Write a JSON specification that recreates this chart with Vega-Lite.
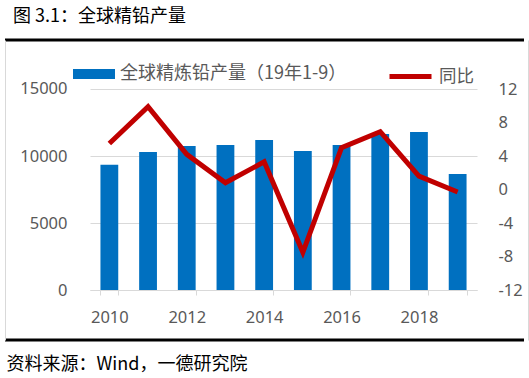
{
  "$schema": "https://vega.github.io/schema/vega-lite/v6.json",
  "width": 523,
  "height": 300,
  "autosize": {"type": "none"},
  "padding": {"left": 5, "top": 40, "right": 1, "bottom": 38},
  "background": "white",
  "title": {
    "text": "图 3.1：全球精铅产量",
    "anchor": "start",
    "frame": "group",
    "dx": 8,
    "offset": 0,
    "baseline": "alphabetic",
    "font": "Noto Sans CJK SC",
    "fontSize": 18,
    "fontWeight": "normal",
    "color": "#000000"
  },
  "data": {
    "values": [
      {"year": 2010, "prod": 9350, "yoy": 5.5},
      {"year": 2011, "prod": 10300, "yoy": 9.9},
      {"year": 2012, "prod": 10750, "yoy": 4.2},
      {"year": 2013, "prod": 10820, "yoy": 0.8},
      {"year": 2014, "prod": 11190, "yoy": 3.3},
      {"year": 2015, "prod": 10370, "yoy": -7.5},
      {"year": 2016, "prod": 10820, "yoy": 5.0},
      {"year": 2017, "prod": 11640, "yoy": 6.9},
      {"year": 2018, "prod": 11790, "yoy": 1.6},
      {"year": 2019, "prod": 8650, "yoy": -0.3}
    ]
  },
  "layer": [
    {
      "mark": {"type": "bar"},
      "encoding": {
        "x": {
          "field": "year",
          "type": "ordinal",
          "scale": {"range": [85, 472], "paddingInner": 0.54, "paddingOuter": 0.27},
          "axis": {
            "orient": "bottom",
            "offset": -50,
            "values": [2010, 2012, 2014, 2016, 2018, 2019],
            "labelExpr": "datum.value == 2019 ? '' : datum.label",
            "tickBand": "extent",
            "labelAngle": 0,
            "domainColor": "#d9d9d9",
            "tickColor": "#d9d9d9",
            "tickSize": 5,
            "labelColor": "#595959",
            "labelFont": "Noto Sans",
            "labelFontSize": 16.5,
            "labelBaseline": "alphabetic",
            "labelPadding": 27,
            "grid": false,
            "title": "资料来源：Wind，一德研究院",
            "titleX": 1,
            "titleY": 79,
            "titleAlign": "left",
            "titleAnchor": "start",
            "titleBaseline": "alphabetic",
            "titleFont": "Noto Sans CJK SC",
            "titleFontSize": 18,
            "titleFontWeight": "normal",
            "titleColor": "#000000"
          }
        },
        "y": {
          "field": "prod",
          "type": "quantitative",
          "scale": {"domain": [-3731.3, 18656.7], "nice": false, "zero": false},
          "axis": {
            "orient": "left",
            "values": [0, 5000, 10000, 15000],
            "labelExpr": "'' + datum.value",
            "grid": true,
            "gridColor": "#d9d9d9",
            "gridWidth": 1,
            "domain": true,
            "domainColor": "#d9d9d9",
            "ticks": false,
            "tickSize": 0,
            "labelPadding": -62,
            "labelColor": "#595959",
            "labelFont": "Noto Sans",
            "labelFontSize": 16.5,
            "title": null
          }
        },
        "y2": {"datum": 0},
        "fill": {
          "datum": "全球精炼铅产量（19年1-9）",
          "type": "nominal",
          "scale": {"range": ["#0070C0"]},
          "legend": {
            "orient": "none",
            "legendX": 68,
            "legendY": 13,
            "title": null,
            "symbolType": "M-1,-0.24H1V0.24H-1Z",
            "symbolSize": 1764,
            "symbolStrokeWidth": 0,
            "labelFont": "Noto Sans CJK SC",
            "labelFontSize": 18,
            "labelColor": "#595959",
            "labelOffset": 5,
            "labelLimit": 400
          }
        }
      }
    },
    {
      "mark": {"type": "line", "strokeWidth": 5},
      "encoding": {
        "x": {"field": "year", "type": "ordinal"},
        "y": {
          "field": "yoy",
          "type": "quantitative",
          "scale": {"domain": [-17.97, 17.851], "nice": false, "zero": false},
          "axis": {
            "orient": "right",
            "values": [-12, -8, -4, 0, 4, 8, 12],
            "labelExpr": "'' + datum.value",
            "grid": false,
            "domain": true,
            "domainColor": "#d9d9d9",
            "ticks": false,
            "tickSize": 0,
            "labelPadding": -30,
            "labelColor": "#595959",
            "labelFont": "Noto Sans",
            "labelFontSize": 16.5,
            "title": null
          }
        },
        "stroke": {
          "datum": "同比",
          "type": "nominal",
          "scale": {"range": ["#C00000"]},
          "legend": {
            "orient": "none",
            "legendX": 382,
            "legendY": 13,
            "title": null,
            "symbolType": "stroke",
            "symbolSize": 1764,
            "symbolStrokeWidth": 5,
            "labelFont": "Noto Sans CJK SC",
            "labelFontSize": 17.5,
            "labelColor": "#595959",
            "labelOffset": 5
          }
        }
      }
    }
  ],
  "resolve": {"scale": {"y": "independent", "fill": "independent", "stroke": "independent"}},
  "config": {
    "view": {"stroke": "#000000", "strokeWidth": 3, "strokeDash": [519, 308, 519, 300]}
  }
}
